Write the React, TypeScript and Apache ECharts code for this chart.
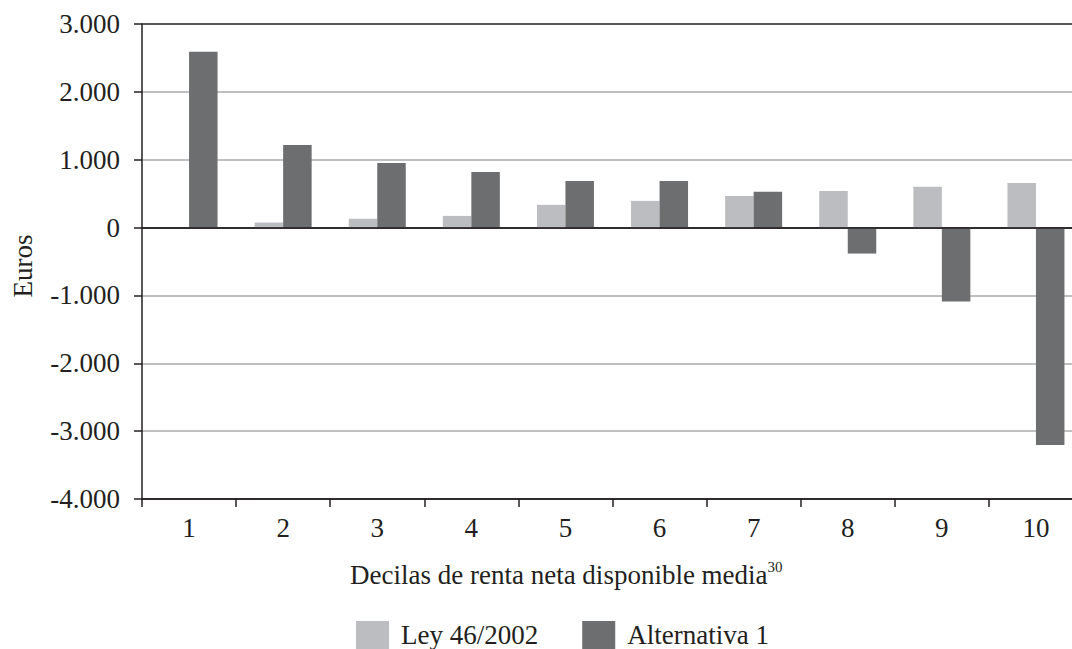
import React, { useEffect, useRef } from "react";
import * as echarts from "echarts";

const categories = ["1", "2", "3", "4", "5", "6", "7", "8", "9", "10"];
const leyValues = [0, 74, 130, 172, 335, 393, 466, 540, 600, 657];
const altValues = [2590, 1218, 953, 820, 688, 688, 527, -383, -1088, -3205];
const seriesNames = ["Ley 46/2002", "Alternativa 1"];
const yMin = -4000;
const yMax = 3000;
const yStep = 1000;
const xTitle = "Decilas de renta neta disponible media";
const xTitleSup = "30";
const yTitle = "Euros";

const FONT = "'Liberation Serif', 'Times New Roman', serif";
const INK = "#231f20";
const GRID_GRAY = "#ababab";
const LIGHT = "#bcbdc0";
const DARK = "#6d6e70";
const FS = 27;

function fmt(v: number): string {
  const s = String(Math.abs(v)).replace(/\B(?=(\d{3})+(?!\d))/g, ".");
  return (v < 0 ? "-" : "") + s;
}

export default function App() {
  const ref = useRef<HTMLDivElement>(null);
  useEffect(() => {
    if (!ref.current) return;
    const chart = echarts.init(ref.current, undefined, { renderer: "svg" });
    const splitColors: string[] = [];
    for (let v = yMin; v <= yMax; v += yStep) {
      splitColors.push(v === 0 || v === yMax || v === yMin ? INK : GRID_GRAY);
    }
    chart.setOption({
      animation: false,
      backgroundColor: "#ffffff",
      textStyle: { fontFamily: FONT, color: INK },
      title: {
        text: `{a|${xTitle}}{s|${xTitleSup}}`,
        left: 350,
        top: 559,
        padding: 0,
        textStyle: {
          fontWeight: "normal",
          rich: {
            a: {
              fontFamily: FONT,
              fontSize: FS,
              fontWeight: "normal",
              color: INK,
              lineHeight: 31,
            },
            s: {
              fontFamily: FONT,
              fontSize: 15,
              fontWeight: "normal",
              color: INK,
              lineHeight: 16,
              verticalAlign: "top",
            },
          },
        },
      },
      legend: {
        left: 356,
        top: 621,
        padding: 0,
        itemWidth: 33,
        itemHeight: 28,
        itemGap: 44,
        icon: "rect",
        data: seriesNames,
        textStyle: {
          fontFamily: FONT,
          fontSize: FS,
          color: INK,
          padding: [0, 0, 0, 7],
        },
      },
      graphic: [
        {
          type: "text",
          x: 23,
          y: 266,
          rotation: Math.PI / 2,
          style: {
            text: yTitle,
            fontFamily: FONT,
            fontSize: FS,
            fill: INK,
            align: "center",
            verticalAlign: "middle",
          },
        },
      ],
      grid: { left: 142, top: 24, right: 7, bottom: 150, containLabel: false },
      xAxis: {
        type: "category",
        data: categories,
        axisLine: { onZero: false, lineStyle: { color: INK, width: 1.5 } },
        axisTick: { show: true, length: 8, lineStyle: { color: INK, width: 1.5 } },
        axisLabel: { fontFamily: FONT, fontSize: FS, color: INK, margin: 15 },
        splitLine: { show: false },
      },
      yAxis: {
        type: "value",
        min: yMin,
        max: yMax,
        interval: yStep,
        axisLine: { show: true, lineStyle: { color: INK, width: 1.5 } },
        axisTick: { show: true, length: 8, lineStyle: { color: INK, width: 1.5 } },
        axisLabel: {
          fontFamily: FONT,
          fontSize: FS,
          color: INK,
          margin: 22,
          formatter: (v: number) => fmt(v),
        },
        splitLine: { show: true, lineStyle: { color: splitColors, width: 1.5 } },
      },
      series: [
        {
          name: seriesNames[0],
          type: "bar",
          data: leyValues,
          barWidth: 28.5,
          barGap: "0%",
          itemStyle: { color: LIGHT },
        },
        {
          name: seriesNames[1],
          type: "bar",
          data: altValues,
          barWidth: 28.5,
          barGap: "0%",
          itemStyle: { color: DARK },
          markLine: {
            silent: true,
            symbol: "none",
            label: { show: false },
            lineStyle: { color: INK, width: 1.5, type: "solid" },
            data: [{ yAxis: 0 }],
          },
        },
      ],
    });
    return () => chart.dispose();
  }, []);
  return (
    <div
      style={{
        position: "fixed",
        left: 0,
        top: 0,
        width: 1072,
        height: 649,
        overflow: "hidden",
        background: "#fff",
      }}
    >
      <div ref={ref} style={{ width: 1090, height: 649 }} />
    </div>
  );
}
